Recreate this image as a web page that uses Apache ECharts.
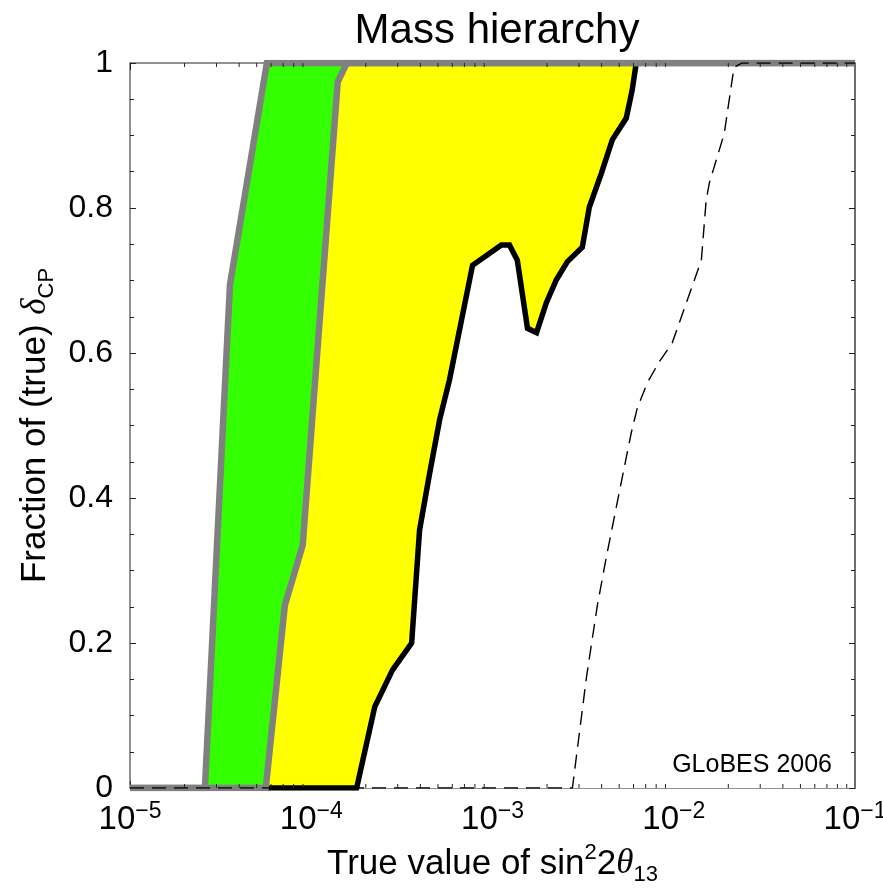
<!DOCTYPE html>
<html>
<head>
<meta charset="utf-8">
<script src="https://cdn.jsdelivr.net/npm/echarts@6/dist/echarts.min.js"></script>
<style>
  html, body { margin: 0; padding: 0; background: #ffffff; }
  #chart { width: 883px; height: 894px; }
</style>
</head>
<body>
<div id="chart"></div>
<script>
// Fraction of (true) delta_CP for which the mass hierarchy can be resolved,
// as a function of the true value of sin^2 2theta_13.

// Left grey contour (outer edge of the green band)
const grayLeftX = [1e-5, 2.59e-5, 3.56e-5, 5.69e-5, 1e-1];
const grayLeftY = [0, 0, 0.694, 1, 1];

// Right grey contour (green / yellow boundary)
const grayRightX = [1e-5, 5.61e-5, 7.15e-5, 8.97e-5, 1.40e-4, 1.57e-4, 1e-1];
const grayRightY = [0, 0, 0.252, 0.335, 0.974, 1, 1];

// Thick black contour (right edge of the yellow band)
const blackX = [1e-5, 1.78e-4, 2.24e-4, 2.81e-4, 3.58e-4, 3.96e-4, 4.50e-4, 5.11e-4, 5.79e-4,
                7.76e-4, 1.12e-3, 1.24e-3, 1.37e-3, 1.56e-3, 1.75e-3, 1.98e-3, 2.25e-3, 2.59e-3,
                3.13e-3, 3.42e-3, 3.99e-3, 4.58e-3, 5.47e-3, 5.90e-3, 6.21e-3, 1e-1];
const blackY = [0, 0, 0.112, 0.163, 0.200, 0.356, 0.434, 0.508, 0.563,
                0.721, 0.749, 0.749, 0.728, 0.634, 0.628, 0.669, 0.701, 0.726,
                0.746, 0.801, 0.848, 0.894, 0.924, 0.963, 1, 1];

// Thin dashed contour
const dashedX = [1e-5, 2.76e-3, 3.30e-3, 3.79e-3, 4.25e-3, 5.34e-3, 5.83e-3, 6.29e-3, 7.15e-3,
                 8.32e-3, 9.81e-3, 1.42e-2, 1.51e-2, 1.57e-2, 1.90e-2, 2.15e-2, 2.38e-2, 1e-1];
const dashedY = [0, 0, 0.153, 0.252, 0.319, 0.443, 0.490, 0.524, 0.559,
                 0.588, 0.614, 0.728, 0.811, 0.834, 0.903, 0.994, 1, 1];

// Axis ranges and ticks
const xMin = 1e-5, xMax = 1e-1;
const yMin = 0, yMax = 1, yStep = 0.2;
const decadeExponents = [-5, -4, -3, -2];
const minorMultipliers = [2, 3, 4, 5, 6, 7, 8, 9];

const FONT = '"Liberation Sans", Arial, Helvetica, sans-serif';
const SERIF = '"Liberation Serif", "DejaVu Serif", serif';
const FRAME = '#6e6e6e';
const TICK = '#222222';

const pairs = (xs, ys) => xs.map((x, i) => [x, ys[i]]);

// Logarithmic minor tick positions (2..9 within each decade)
const minorTickValues = [];
decadeExponents.forEach(e => minorMultipliers.forEach(m => minorTickValues.push([m * Math.pow(10, e)])));

function fill(xs, ys, color, z) {
  return {
    type: 'line', data: pairs(xs, ys), symbol: 'none', silent: true, z: z,
    lineStyle: { width: 0, opacity: 0 },
    areaStyle: { color: color, opacity: 1, origin: 'start' }
  };
}
function stroke(xs, ys, style, z) {
  return {
    type: 'line', data: pairs(xs, ys), symbol: 'none', silent: true, z: z,
    lineStyle: Object.assign({ join: 'miter', cap: 'butt' }, style)
  };
}

const chart = echarts.init(document.getElementById('chart'), null, { renderer: 'canvas' });

const xLabelRich = {
  b: { fontSize: 33, fontFamily: FONT, color: '#000', lineHeight: 40 },
  s: { fontSize: 23, fontFamily: FONT, color: '#000', lineHeight: 23, verticalAlign: 'top' }
};

chart.setOption({
  animation: false,
  backgroundColor: '#ffffff',
  title: [
    {
      text: 'Mass hierarchy', left: 492, top: 5, textAlign: 'center',
      textStyle: { fontFamily: FONT, fontSize: 42, fontWeight: 'normal', color: '#000' }
    },
    {
      text: 'GLoBES 2006', right: 46, top: 748,
      textStyle: { fontFamily: FONT, fontSize: 25, fontWeight: 'normal', color: '#000' }
    }
  ],
  grid: { left: 130, top: 63, width: 725, height: 725, containLabel: false, outerBoundsMode: 'none' },
  xAxis: [
    {
      type: 'log', logBase: 10, min: xMin, max: xMax, position: 'bottom',
      axisLine: { show: true, onZero: false, lineStyle: { color: FRAME, width: 1.5 } },
      axisTick: { show: true, inside: true, length: 7, lineStyle: { color: TICK, width: 1 } },
      minorTick: { show: false },
      splitLine: { show: false },
      axisLabel: {
        margin: 12,
        formatter: v => '{b|10}{s|\u2212' + Math.round(-Math.log10(v)) + '}',
        rich: xLabelRich
      },
      name: 'True value of sin{sup|2}2{th|\u03b8}{sub|13}',
      nameLocation: 'middle', nameGap: 54,
      nameTextStyle: {
        fontFamily: FONT, fontSize: 35, color: '#000', lineHeight: 44,
        rich: {
          sup: { fontFamily: FONT, fontSize: 22, lineHeight: 22, verticalAlign: 'top', color: '#000' },
          th: { fontFamily: SERIF, fontStyle: 'italic', fontSize: 35, lineHeight: 44, color: '#000' },
          sub: { fontFamily: FONT, fontSize: 22, lineHeight: 22, verticalAlign: 'bottom', color: '#000' }
        }
      }
    },
    {
      type: 'log', logBase: 10, min: xMin, max: xMax, position: 'top',
      axisLine: { show: true, onZero: false, lineStyle: { color: FRAME, width: 1.5 } },
      axisTick: { show: true, inside: true, length: 7, lineStyle: { color: TICK, width: 1 } },
      axisLabel: { show: false },
      splitLine: { show: false }
    }
  ],
  yAxis: [
    {
      type: 'value', min: yMin, max: yMax, interval: yStep, position: 'left',
      axisLine: { show: true, onZero: false, lineStyle: { color: FRAME, width: 1.5 } },
      axisTick: { show: true, inside: true, length: 6, lineStyle: { color: TICK, width: 1 } },
      minorTick: { show: true, splitNumber: 4, length: 4, lineStyle: { color: TICK, width: 1 } },
      splitLine: { show: false },
      axisLabel: { margin: 17, fontFamily: FONT, fontSize: 32, color: '#000' },
      name: 'Fraction of (true) {d|\u03b4}{sub|CP}',
      nameLocation: 'middle', nameGap: 64, nameRotate: 90,
      nameTextStyle: {
        fontFamily: FONT, fontSize: 35, color: '#000', lineHeight: 44,
        rich: {
          d: { fontFamily: SERIF, fontStyle: 'italic', fontSize: 35, lineHeight: 44, color: '#000' },
          sub: { fontFamily: FONT, fontSize: 22, lineHeight: 22, verticalAlign: 'bottom', color: '#000' }
        }
      }
    },
    {
      // right frame edge drawn above the filled bands
      type: 'value', min: yMin, max: yMax, interval: yStep, position: 'right', z: 20,
      axisLine: { show: true, onZero: false, lineStyle: { color: FRAME, width: 2 } },
      axisTick: { show: true, inside: true, length: 6, lineStyle: { color: TICK, width: 1 } },
      minorTick: { show: true, splitNumber: 4, length: 4, lineStyle: { color: TICK, width: 1 } },
      splitLine: { show: false },
      axisLabel: { show: false }
    }
  ],
  series: [
    // filled bands: green below the left contour, yellow below the right grey one,
    // white below the black contour
    fill(grayLeftX, grayLeftY, '#33ff00', 1),
    fill(grayRightX, grayRightY, '#ffff00', 2),
    fill(blackX, blackY, '#ffffff', 3),
    // contour lines
    stroke(blackX, blackY, { color: '#000000', width: 5.5 }, 4),
    stroke(grayRightX, grayRightY, { color: '#808080', width: 6.5 }, 5),
    stroke(grayLeftX, grayLeftY, { color: '#808080', width: 6.5 }, 5),
    stroke(dashedX, dashedY, { color: '#000000', width: 1.4, type: [14, 8] }, 6),
    // logarithmic minor ticks on the bottom and top frame edges
    {
      type: 'custom', data: minorTickValues, silent: true, z: 7, clip: false,
      renderItem: function (params, api) {
        const v = api.value(0);
        const b = api.coord([v, yMin]);
        const t = api.coord([v, yMax]);
        const style = { stroke: TICK, lineWidth: 1 };
        return {
          type: 'group',
          children: [
            { type: 'line', shape: { x1: b[0], y1: b[1], x2: b[0], y2: b[1] - 4 }, style: style },
            { type: 'line', shape: { x1: t[0], y1: t[1], x2: t[0], y2: t[1] + 4 }, style: style }
          ]
        };
      }
    }
  ]
});
</script>
</body>
</html>
